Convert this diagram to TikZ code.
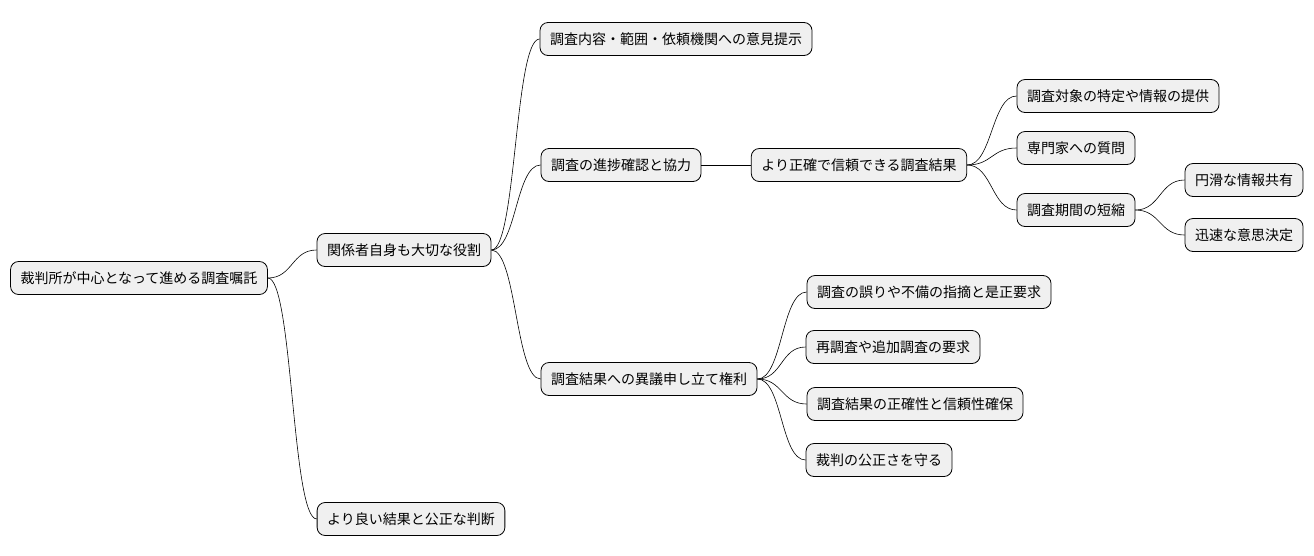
\documentclass[tikz,border=0pt]{standalone}
\usepackage{fontspec}
\setmainfont{Noto Sans CJK JP}
\begin{document}
\begin{tikzpicture}[x=1pt,y=-1pt,
 mm/.style={draw=black,fill=black!6,rounded corners=8pt,font=\fontsize{14}{16}\selectfont,inner xsep=10pt,inner ysep=0pt,minimum height=33pt,line width=0.8pt},
 cn/.style={line width=0.6pt}]
\useasboundingbox (0,0) rectangle (1314,555);
\node[mm] (r) at (139,278) {裁判所が中心となって進める調査嘱託};
\node[mm] (a) at (404,250) {関係者自身も大切な役割};
\node[mm] (b) at (411,519) {より良い結果と公正な判断};
\node[mm] (a1) at (676,39) {調査内容・範囲・依頼機関への意見提示};
\node[mm] (a2) at (621,165) {調査の進捗確認と協力};
\node[mm] (a3) at (649,379) {調査結果への異議申し立て権利};
\node[mm] (c) at (859,165) {より正確で信頼できる調査結果};
\node[mm] (c1) at (1118,96) {調査対象の特定や情報の提供};
\node[mm] (c2) at (1076,148) {専門家への質問};
\node[mm] (c3) at (1076,210) {調査期間の短縮};
\node[mm] (d1) at (1244,180) {円滑な情報共有};
\node[mm] (d2) at (1244,235) {迅速な意思決定};
\node[mm] (e1) at (929,292) {調査の誤りや不備の指摘と是正要求};
\node[mm] (e2) at (893,347) {再調査や追加調査の要求};
\node[mm] (e3) at (915,404) {調査結果の正確性と信頼性確保};
\node[mm] (e4) at (879,460) {裁判の公正さを守る};
\foreach \p/\c in {r/a,r/b,a/a1,a/a2,a/a3,a2/c,c/c1,c/c2,c/c3,c3/d1,c3/d2,a3/e1,a3/e2,a3/e3,a3/e4}{
 \draw[cn] (\p.east) .. controls ([xshift=25pt]\p.east) and ([xshift=-25pt]\c.west) .. (\c.west);
}
\end{tikzpicture}
\end{document}
